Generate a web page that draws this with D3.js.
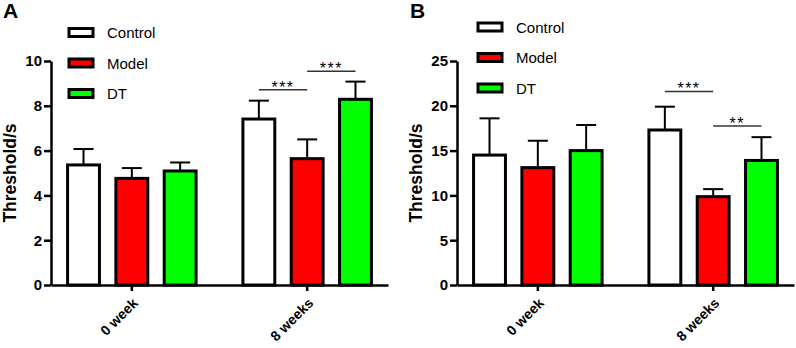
<!DOCTYPE html>
<html>
<head>
<meta charset="utf-8">
<script src="https://cdn.jsdelivr.net/npm/d3@7"></script>
<style>
  body { margin: 0; background: #fff; }
  svg { display: block; font-family: "Liberation Sans", Arial, sans-serif; }
</style>
</head>
<body>
<svg id="chart" width="796" height="348"></svg>
<script>
const groups = ["0 week", "8 weeks"];
const series = ["Control", "Model", "DT"];
const colors = ["#ffffff", "#ff0000", "#00ff00"];

// panel A: mean and SD (upper error bar) per group x series
const meanA = [[5.36, 4.76, 5.09], [7.41, 5.64, 8.29]];
const sdA = [[0.71, 0.46, 0.38], [0.82, 0.86, 0.79]];
const ticksA = [0, 2, 4, 6, 8, 10];
const sigA = [
  { group: "8 weeks", from: "Control", to: "Model", y: 8.72, label: "***" },
  { group: "8 weeks", from: "Model", to: "DT", y: 9.54, label: "***" }
];

// panel B
const meanB = [[14.5, 13.1, 15.0], [17.3, 9.86, 13.9]];
const sdB = [[4.1, 3.0, 2.86], [2.6, 0.84, 2.6]];
const ticksB = [0, 5, 10, 15, 20, 25];
const sigB = [
  { group: "8 weeks", from: "Control", to: "Model", y: 21.6, label: "***" },
  { group: "8 weeks", from: "Model", to: "DT", y: 17.75, label: "**" }
];

const svg = d3.select("#chart");

function drawPanel(opt) {
    const g = svg.append("g");
    const top = 61, bottom = 285;

    const y = d3.scaleLinear().domain([0, opt.ymax]).range([bottom, top]);
    const x0 = d3.scaleBand().domain(groups)
        .range([opt.left, opt.right]).paddingInner(0.148).paddingOuter(0.035);
    const x1 = d3.scaleBand().domain(series)
        .range([0, x0.bandwidth()]).paddingInner(0.34).paddingOuter(0.216);

    // bars + error bars
    groups.forEach((grp, gi) => {
        series.forEach((s, si) => {
            const m = opt.mean[gi][si], sd = opt.sd[gi][si];
            const bx = x0(grp) + x1(s);
            const cx = bx + x1.bandwidth() / 2;
            g.append("line")
                .attr("x1", cx).attr("x2", cx)
                .attr("y1", y(m)).attr("y2", y(m + sd))
                .attr("stroke", "#000").attr("stroke-width", 2);
            g.append("line")
                .attr("x1", cx - 10).attr("x2", cx + 10)
                .attr("y1", y(m + sd)).attr("y2", y(m + sd))
                .attr("stroke", "#000").attr("stroke-width", 2);
            g.append("rect")
                .attr("x", bx).attr("y", y(m))
                .attr("width", x1.bandwidth()).attr("height", y(0) - y(m))
                .attr("fill", colors[si]).attr("stroke", "#000").attr("stroke-width", 3);
        });
    });

    // y axis
    const yAxis = g.append("g")
        .attr("transform", `translate(${opt.left},0)`)
        .call(d3.axisLeft(y).tickValues(opt.ticks).tickSize(7).tickPadding(2).tickSizeOuter(0));
    yAxis.select(".domain").attr("stroke-width", 2.5);
    yAxis.selectAll(".tick line").attr("stroke-width", 2.5);
    yAxis.selectAll("text").attr("font-size", 15).attr("font-weight", "bold")
        .attr("font-family", "Liberation Sans, Arial, sans-serif").attr("fill", "#000");

    // x axis
    const xAxis = g.append("g")
        .attr("transform", `translate(0,${bottom})`)
        .call(d3.axisBottom(x0).tickSize(6).tickSizeOuter(0).tickFormat(""));
    xAxis.select(".domain").attr("stroke-width", 2.5);
    xAxis.selectAll(".tick line").attr("stroke-width", 2.5);

    groups.forEach(grp => {
        const cx = x0(grp) + x0.bandwidth() / 2;
        g.append("text")
            .attr("transform", `translate(${cx + 7},${bottom + 19}) rotate(-45)`)
            .attr("text-anchor", "end")
            .attr("font-size", 14).attr("font-weight", "bold")
            .text(grp);
    });

    // y title
    g.append("text")
        .attr("transform", `translate(${opt.titleX},${(top + bottom) / 2}) rotate(-90)`)
        .attr("text-anchor", "middle").attr("dominant-baseline", "central")
        .attr("font-size", 17.5).attr("font-weight", "bold")
        .text("Threshold/s");

    // significance
    opt.sig.forEach(d => {
        const xa = x0(d.group) + x1(d.from) + x1.bandwidth() / 2;
        const xb = x0(d.group) + x1(d.to) + x1.bandwidth() / 2;
        g.append("line")
            .attr("x1", xa).attr("x2", xb)
            .attr("y1", y(d.y)).attr("y2", y(d.y))
            .attr("stroke", "#333").attr("stroke-width", 1.5);
        g.append("text")
            .attr("x", (xa + xb) / 2).attr("y", y(d.y) + 3)
            .attr("text-anchor", "middle")
            .attr("font-size", 16).attr("letter-spacing", 1.5)
            .text(d.label);
    });

    // legend
    series.forEach((s, i) => {
        const ly = opt.legendY + i * 30.5;
        g.append("rect")
            .attr("x", opt.legendX).attr("y", ly - 4)
            .attr("width", 24).attr("height", 8)
            .attr("fill", colors[i]).attr("stroke", "#000").attr("stroke-width", 3);
        g.append("text")
            .attr("x", opt.legendX + 38).attr("y", ly)
            .attr("dominant-baseline", "central")
            .attr("font-size", 15)
            .text(s);
    });

    // panel letter
    g.append("text")
        .attr("x", opt.letterX).attr("y", 18)
        .attr("font-size", 21).attr("font-weight", "bold")
        .text(opt.letter);
}

drawPanel({
    letter: "A", letterX: 3, left: 51, right: 388, ymax: 10, ticks: ticksA,
    mean: meanA, sd: sdA, sig: sigA, titleX: 10, legendX: 69, legendY: 32.5
});
drawPanel({
    letter: "B", letterX: 410, left: 457, right: 794, ymax: 25, ticks: ticksB,
    mean: meanB, sd: sdB, sig: sigB, titleX: 416, legendX: 478, legendY: 27
});
</script>
</body>
</html>
